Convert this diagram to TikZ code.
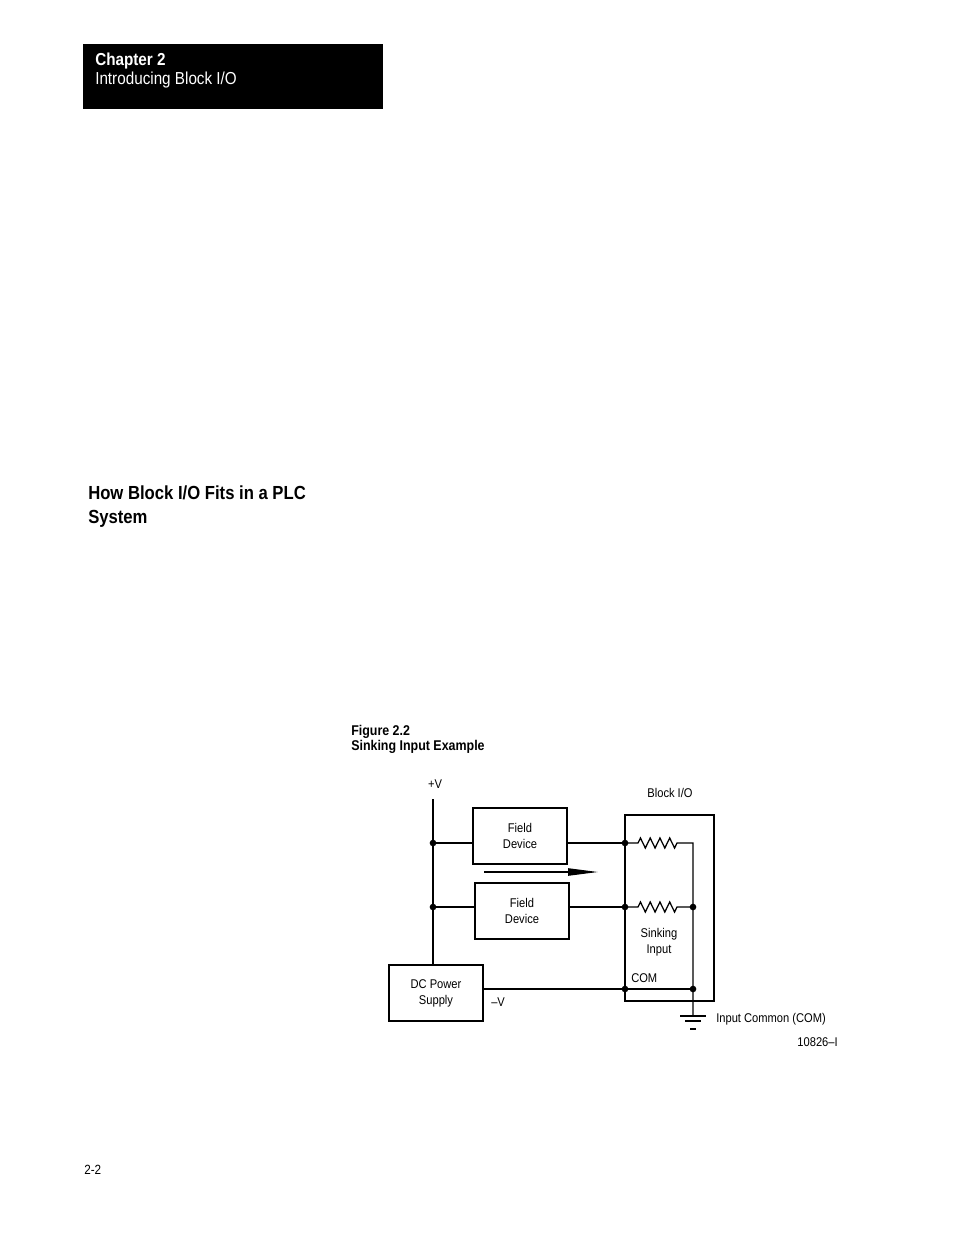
\documentclass[tikz,border=0pt]{standalone}
\usepackage{fontspec}
\setmainfont{Liberation Sans}[FakeStretch=0.88]
\usetikzlibrary{arrows.meta}
\newcommand\dgtext{\fontsize{9.5}{12}\selectfont}
\newcommand\hdrtext{\fontsize{13}{15}\selectfont}
\newcommand\headtext{\fontsize{14.2}{17}\selectfont}
\newcommand\captext{\fontsize{10.6}{12}\selectfont}
\begin{document}
\begin{tikzpicture}[x=0.75pt,y=-0.75pt,
  box/.style={draw,line width=1.2pt,minimum width=70.5pt,minimum height=42pt,inner sep=0pt,align=center,font=\dgtext},
  lbl/.style={inner sep=0pt,font=\dgtext},
  thickw/.style={line width=1.5pt},
  thinw/.style={line width=0.95pt},
  dot/.style={circle,fill,inner sep=0pt,minimum size=5pt}
]
\useasboundingbox (0,0) rectangle (954,1235);
% header
\node[fill=black,minimum width=225pt,minimum height=48.75pt,inner sep=0pt,anchor=north west] (hdr) at (83,44) {};
\node[anchor=base west,inner sep=0pt,text=white,font=\hdrtext\bfseries] (ch) at (95,65) {Chapter 2};
\node[anchor=base west,inner sep=0pt,text=white,font=\hdrtext] (intro) at (95,84) {Introducing Block I/O};
% heading
\node[anchor=base west,inner sep=0pt,font=\headtext\bfseries] (h1) at (88,499) {How Block I/O Fits in a PLC};
\node[anchor=base west,inner sep=0pt,font=\headtext\bfseries] (h2) at (88,523) {System};
% caption
\node[anchor=base west,inner sep=0pt,font=\captext\bfseries] (c1) at (351,735) {Figure 2.2};
\node[anchor=base west,inner sep=0pt,font=\captext\bfseries] (c2) at (351,750) {Sinking Input Example};
% boxes
\node[box] (fd1) at (520,836) {Field\\Device};
\node[box] (fd2) at (522,911) {Field\\Device};
\node[box] (dc) at (436,993) {DC Power\\Supply};
\node[draw,line width=1.2pt,minimum width=66.75pt,minimum height=139.5pt,inner sep=0pt] (bio) at (669.5,908) {};
% junctions
\coordinate (vtop) at (433,799);
\node[dot] (j1) at (433,843) {};
\node[dot] (j2) at (433,907) {};
\node[dot] (b1) at (625,843) {};
\node[dot] (b2) at (625,907) {};
\node[dot] (bc) at (625,989) {};
\node[dot] (rc) at (693,989) {};
\node[dot] (r2) at (693,907) {};
\coordinate (r1) at (693,843);
\coordinate (gnd) at (693,1016);
% rail and connections
\draw[thickw] (vtop) -- (vtop |- dc.north);
\draw[thickw] (j1.center) -- (j1 -| fd1.west);
\draw[thickw] (j2.center) -- (j2 -| fd2.west);
\draw[thinw] (j1 -| fd1.east) -- (b1.center);
\draw[thinw] (j2 -| fd2.east) -- (b2.center);
% resistors
\draw[thinw,line join=miter] (b1.center) -- ++(13,0) -- ++(2.44,-5) -- ++(4.875,10) -- ++(4.875,-10) -- ++(4.875,10) -- ++(4.875,-10) -- ++(4.875,10) -- ++(4.875,-10) -- ++(4.875,10) -- ++(2.44,-5) -- (r1) -- (gnd);
\draw[thinw,line join=miter] (b2.center) -- ++(13,0) -- ++(2.44,-5) -- ++(4.875,10) -- ++(4.875,-10) -- ++(4.875,10) -- ++(4.875,-10) -- ++(4.875,10) -- ++(4.875,-10) -- ++(4.875,10) -- ++(2.44,-5) -- (r2.center);
% COM line
\draw[thickw] (dc.east |- bc) -- (bc.center) -- (rc.center);
% ground
\draw[thickw] (gnd) ++(-13,0) -- ++(26,0);
\draw[thickw] (gnd) ++(-8,5) -- ++(16,0);
\draw[thinw] (gnd) ++(-3,13) -- ++(6,0);
% current arrow
\coordinate (a0) at (484,872);
\coordinate (a1) at (598,872);
\draw[thinw,-{Triangle[length=22.5pt,width=5.5pt]}] (a0) -- (a1);
% labels
\node[lbl,anchor=base] (pv) at (435,788) {+V};
\node[lbl,anchor=base] (blk) at (670,797) {Block I/O};
\node[lbl,anchor=base] (s1) at (659,937) {Sinking};
\node[lbl,anchor=base] (s2) at (659,953) {Input};
\node[lbl,anchor=base west] (com) at (631,982) {COM};
\node[lbl,anchor=base west] (mv) at (491,1006) {–V};
\node[lbl,anchor=base west] (ic) at (716,1022) {Input Common (COM)};
\node[lbl,anchor=base east] (fig) at (838,1046) {10826–I};
\node[anchor=base west,inner sep=0pt,font=\fontsize{10}{12}\selectfont] (pg) at (84,1174) {2-2};
\end{tikzpicture}
\end{document}
